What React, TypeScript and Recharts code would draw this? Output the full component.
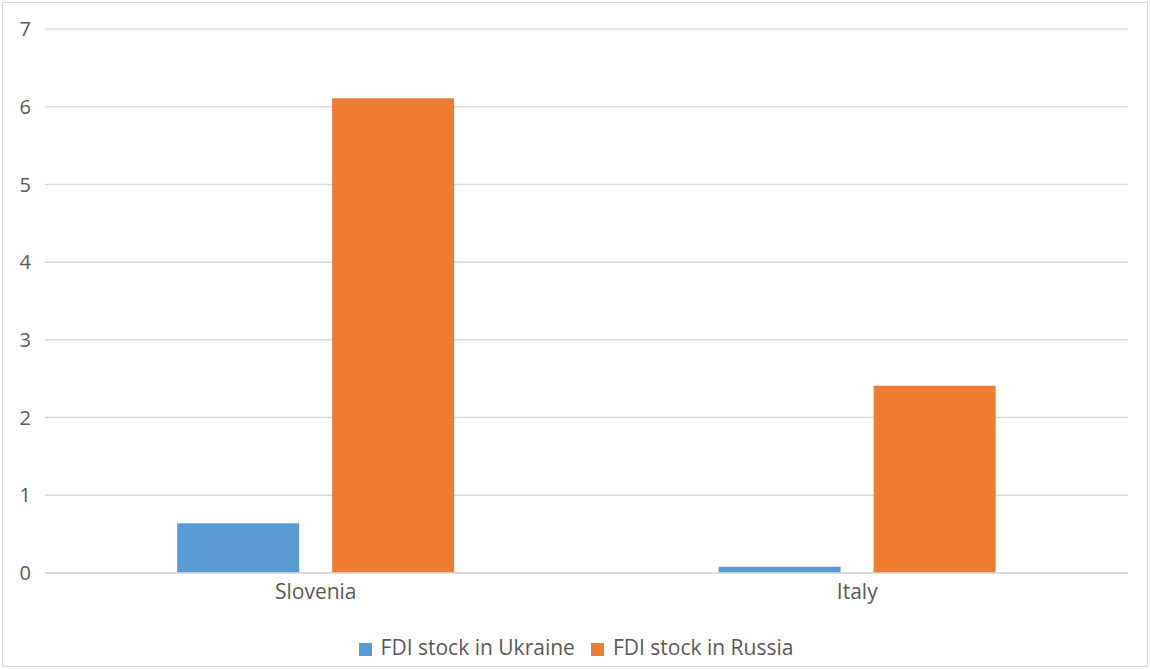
import { BarChart, Bar, XAxis, YAxis, CartesianGrid, Legend } from 'recharts'

const countries = ['Slovenia', 'Italy']
const ukraine = [0.64, 0.08]
const russia = [6.11, 2.41]
const yTicks = [0, 1, 2, 3, 4, 5, 6, 7]

const data = countries.map((c, i) => ({ name: c, ukraine: ukraine[i], russia: russia[i] }))

const font = '"Open Sans", sans-serif'
const seriesOrder = ['ukraine', 'russia']

export default function App() {
  return (
    <div style={{ position: 'fixed', left: 0, top: 0, width: 1150, height: 669, background: '#fff', fontFamily: font }}>
      <div style={{ position: 'absolute', left: 2, top: 2, width: 1144, height: 663, border: '1px solid #d9d9d9' }} />
      <BarChart
        width={1150}
        height={669}
        data={data}
        margin={{ top: 29, right: 22, bottom: 7, left: 0 }}
        barCategoryGap="24.4%"
        barGap={33}
      >
        <CartesianGrid vertical={false} stroke="#d9d9d9" strokeWidth={1.5} />
        <XAxis
          dataKey="name"
          tickLine={false}
          axisLine={{ stroke: '#d9d9d9', strokeWidth: 1.5 }}
          tick={{ fill: '#595959', fontSize: 21, fontFamily: font }}
          tickMargin={5}
          height={59}
        />
        <YAxis
          domain={[0, 7]}
          ticks={yTicks}
          width={45}
          tickLine={false}
          axisLine={false}
          tick={{ fill: '#595959', fontSize: 20, fontFamily: font }}
          tickMargin={8}
        />
        <Legend
          iconType="square"
          iconSize={13}
          itemSorter={(item: any) => seriesOrder.indexOf(item.dataKey)}
          wrapperStyle={{ left: 0, width: 1150, paddingLeft: 18, boxSizing: 'border-box', fontSize: 21, fontFamily: font, lineHeight: '30px' }}
          formatter={(v) => <span style={{ color: '#595959', marginLeft: 5, marginRight: 6 }}>{v}</span>}
        />
        <Bar dataKey="ukraine" name="FDI stock in Ukraine" fill="#5b9bd5" isAnimationActive={false} />
        <Bar dataKey="russia" name="FDI stock in Russia" fill="#ed7d31" isAnimationActive={false} />
      </BarChart>
    </div>
  )
}
